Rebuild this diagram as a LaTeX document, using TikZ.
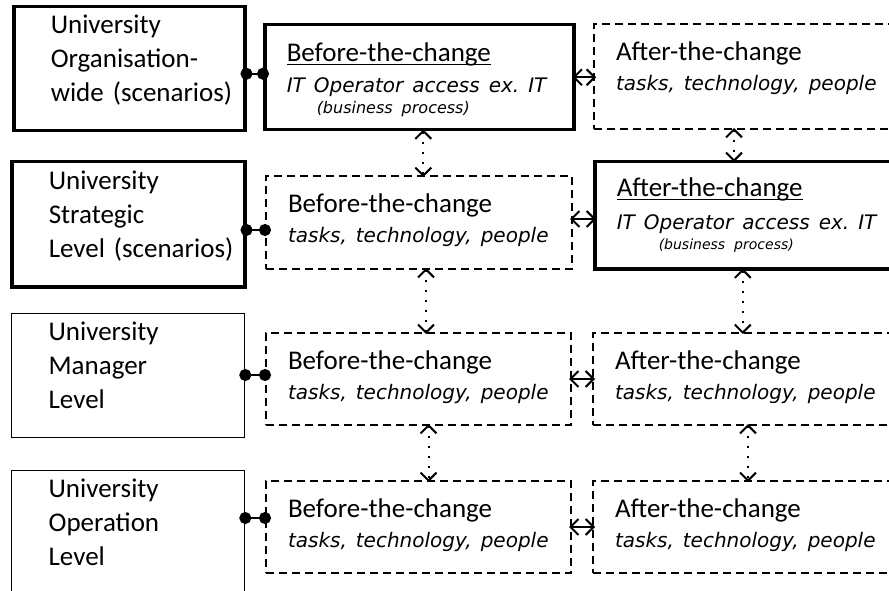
\documentclass[tikz,border=0pt]{standalone}
\usepackage{fontspec}
\setmainfont{Carlito}
\newfontfamily\comicfont{DejaVu Sans}
\usetikzlibrary{positioning}
\usetikzlibrary{calc}
\usetikzlibrary{arrows.meta}
\newcommand{\taskfont}{\comicfont\itshape\fontsize{20}{20}\selectfont\frenchspacing}
\newcommand{\uln}[1]{\leavevmode\setbox0\hbox{#1}\rlap{\copy0}\rule[-3.5pt]{\wd0}{1.3pt}}

\begin{document}
\begin{tikzpicture}[x=1pt, y=-1pt,
    box/.style={draw, rectangle, anchor=north west, align=left, inner xsep=22pt, inner ysep=0pt, text height=19pt, text depth=39pt, font=\fontsize{27}{30}\selectfont},
    lvl/.style={box, inner xsep=37pt, text depth=89pt, font=\fontsize{27}{34}\selectfont},
    boldbox/.style={line width=3.5pt},
    thinbox/.style={line width=1.3pt},
    dashbox/.style={line width=2pt, dash pattern=on 8pt off 5pt},
    ball/.style={line width=2pt, {Circle[length=12pt]}-{Circle[length=12pt]}, shorten <=-6pt, shorten >=-6pt},
    dbl/.style={line width=2pt, {Straight Barb[length=8pt,width=16pt]}-{Straight Barb[length=8pt,width=16pt]}, shorten <=-3pt, shorten >=-3pt},
    vdots/.style={dbl, dash pattern=on 2pt off 8pt, shorten <=-2pt, shorten >=-2pt}]
        \path[use as bounding box] (0,0) rectangle (889,591);
        \clip (0,0) rectangle (889,591);

        \node[lvl, boldbox, minimum width=231pt, minimum height=124pt, text width=157pt] (l1) at (12,5) {University\\Organisation-\\\mbox{wide (scenarios)}};
        \node[lvl, boldbox, minimum width=233pt, minimum height=125pt, text width=159pt] (l2) at (10,160) {University\\Strategic\\\mbox{Level (scenarios)}};
        \node[lvl, thinbox, minimum width=233pt, minimum height=124pt, text width=159pt] (l3) at (11,313) {University\\Manager\\Level};
        \node[lvl, thinbox, minimum width=233pt, minimum height=124pt, text width=159pt] (l4) at (11,470) {University\\Operation\\Level};

        \node[box, boldbox, minimum width=309pt, minimum height=105pt, text width=265pt, text depth=50pt, font=\fontsize{27}{31}\selectfont] (b1) at (263,23) {\uln{Before-the-change}\\\mbox{\taskfont IT Operator access ex. IT}\\[-10pt]\hspace*{30pt}\mbox{\taskfont\fontsize{16}{16}\selectfont (business process)}};
        \node[box, dashbox, minimum width=306pt, minimum height=93pt, text width=262pt] (b2) at (265,175) {Before-the-change\\\mbox{\taskfont tasks, technology, people}};
        \node[box, dashbox, minimum width=305pt, minimum height=92pt, text width=261pt] (b3) at (265,332) {Before-the-change\\\mbox{\taskfont tasks, technology, people}};
        \node[box, dashbox, minimum width=305pt, minimum height=92pt, text width=261pt] (b4) at (265,480) {Before-the-change\\\mbox{\taskfont tasks, technology, people}};

        \node[box, dashbox, minimum width=300pt, minimum height=105pt, text width=256pt, text depth=50pt] (a1) at (593,23) {After-the-change\\\mbox{\taskfont tasks, technology, people}};
        \node[box, boldbox, minimum width=300pt, minimum height=107pt, text width=256pt, text depth=56pt, font=\fontsize{27}{33}\selectfont] (a2) at (593,160) {\uln{After-the-change}\\\mbox{\taskfont IT Operator access ex. IT}\\[-13pt]\hspace*{42pt}\mbox{\taskfont\fontsize{14}{14}\selectfont (business process)}};
        \node[box, dashbox, minimum width=300pt, minimum height=92pt, text width=256pt] (a3) at (592,332) {After-the-change\\\mbox{\taskfont tasks, technology, people}};
        \node[box, dashbox, minimum width=300pt, minimum height=92pt, text width=256pt] (a4) at (592,480) {After-the-change\\\mbox{\taskfont tasks, technology, people}};

        \draw[ball] ([yshift=3.5pt]b1.west) -- ([yshift=3.5pt]b1.west -| l1.east);
        \draw[ball] ([yshift=-7.5pt]b2.west) -- ([yshift=-7.5pt]b2.west -| l2.east);
        \draw[ball] ([yshift=4pt]b3.west) -- ([yshift=4pt]b3.west -| l3.east);
        \draw[ball] ([yshift=9pt]b4.west) -- ([yshift=9pt]b4.west -| l4.east);

        \draw[dbl] (b1.east) -- (b1.east -| a1.west);
        \draw[dbl] ([yshift=3.5pt]b2.east) -- ([yshift=3.5pt]b2.east -| a2.west);
        \draw[dbl] (b3.east) -- (b3.east -| a3.west);
        \draw[dbl] (b4.east) -- (b4.east -| a4.west);

        \draw[vdots] ([xshift=4pt]b1.south) -- ([xshift=4pt]b1.south |- b2.north);
        \draw[vdots] ([xshift=7pt]b2.south) -- ([xshift=7pt]b2.south |- b3.north);
        \draw[vdots] ([xshift=10pt]b3.south) -- ([xshift=10pt]b3.south |- b4.north);
        \draw[vdots] ([xshift=-10pt]a1.south) -- ([xshift=-10pt]a1.south |- a2.north);
        \draw[vdots] ([xshift=-2pt]a2.south) -- ([xshift=-2pt]a2.south |- a3.north);
        \draw[vdots] ([xshift=5pt]a3.south) -- ([xshift=5pt]a3.south |- a4.north);
    \end{tikzpicture}
\end{document}
